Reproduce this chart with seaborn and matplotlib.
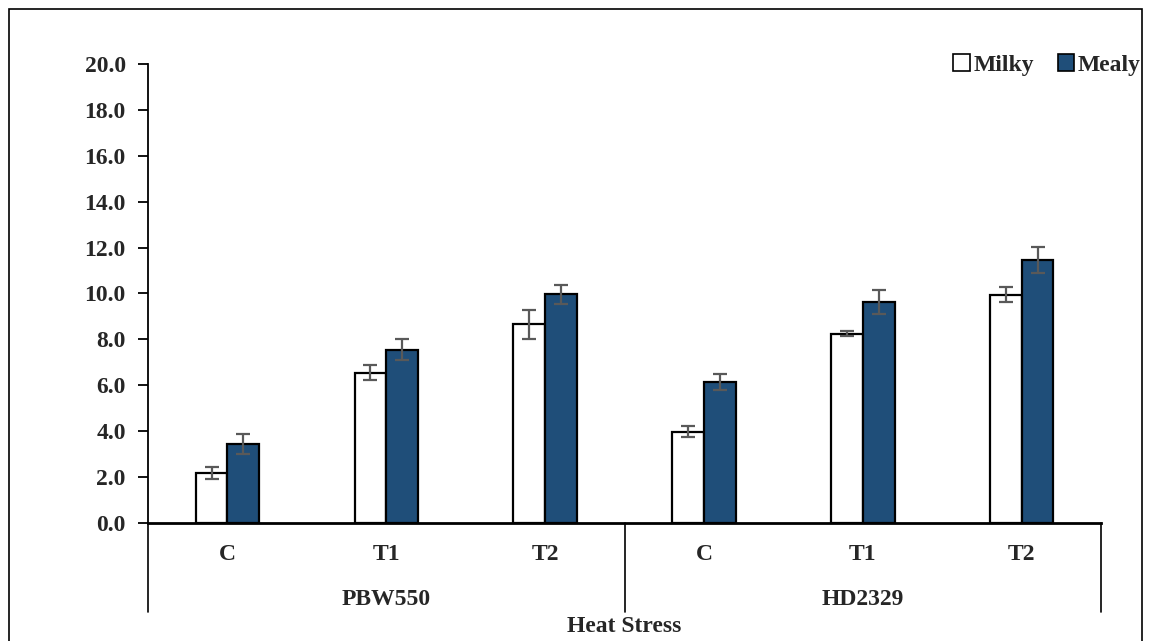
import pandas as pd
import numpy as np
import matplotlib
matplotlib.use('Agg')
import matplotlib.pyplot as plt
import seaborn as sns
from matplotlib.patches import Rectangle, Patch

# values
groups = ['PBW550', 'HD2329']
treatments = ['C', 'T1', 'T2']
series = ['Milky', 'Mealy']
milky = [2.18, 6.55, 8.65, 3.98, 8.25, 9.95]
mealy = [3.44, 7.55, 9.97, 6.14, 9.62, 11.46]
milky_err = [0.27, 0.33, 0.65, 0.23, 0.12, 0.33]
mealy_err = [0.43, 0.47, 0.42, 0.35, 0.51, 0.57]
yticks = np.arange(0, 20.1, 2.0)

rows = []
i = 0
for g in groups:
    for t in treatments:
        key = g + ' ' + t
        rows.append({'key': key, 'group': g, 'treat': t, 'series': 'Milky', 'value': milky[i], 'err': milky_err[i]})
        rows.append({'key': key, 'group': g, 'treat': t, 'series': 'Mealy', 'value': mealy[i], 'err': mealy_err[i]})
        i += 1
df = pd.DataFrame(rows)
order = list(dict.fromkeys(df['key']))

sns.set_style('white')
plt.rcParams['font.family'] = ['Liberation Serif', 'DejaVu Serif']
plt.rcParams['font.weight'] = 'bold'
FS = 17

fig = plt.figure(figsize=(11.51, 6.41), dpi=100)
ax = fig.add_axes([0.1286, 0.1841, 0.9566 - 0.1286, 0.9002 - 0.1841])

colors = {'Milky': '#FFFFFF', 'Mealy': '#1F4E79'}
sns.barplot(data=df, x='key', y='value', hue='series', order=order, hue_order=series,
            palette=colors, saturation=1, width=0.4, edgecolor='black', linewidth=1.6,
            errorbar=None, legend=False, ax=ax)

# error bars drawn from the bars seaborn produced
for cont, s in zip(ax.containers, series):
    errs = df[df['series'] == s].set_index('key').loc[order, 'err'].values
    xs = [b.get_x() + b.get_width() / 2 for b in cont]
    ys = [b.get_height() for b in cont]
    ax.errorbar(xs, ys, yerr=errs, fmt='none', ecolor='#595959', elinewidth=1.6,
                capsize=5, capthick=1.6, zorder=5)

ax.set_ylim(0, 20)
ax.set_xlim(-0.5, len(order) - 0.5)
ax.set_yticks(yticks)
ax.set_yticklabels([f'{v:.1f}' for v in yticks], fontsize=FS, fontweight='bold')
ax.set_xticks(range(len(order)))
ax.set_xticklabels(treatments * len(groups), fontsize=FS, fontweight='bold')
ax.tick_params(axis='y', direction='out', length=7, width=1.3, color='black', pad=9, left=True)
ax.tick_params(axis='x', length=0, pad=15)
ax.set_xlabel('')
ax.set_ylabel('')
for sp in ['top', 'right']:
    ax.spines[sp].set_visible(False)
ax.spines['left'].set_linewidth(1.3)
ax.spines['bottom'].set_linewidth(2)
ax.spines['left'].set_color('black')
ax.spines['bottom'].set_color('black')

# multi-level category axis
tr = ax.get_xaxis_transform()
n = len(treatments)
for k in range(len(groups) + 1):
    xb = k * n - 0.5
    ax.plot([xb, xb], [0, -0.194], transform=tr, color='black', lw=1.2, clip_on=False)
for k, g in enumerate(groups):
    ax.text(k * n + (n - 1) / 2, -0.1656, g, transform=tr, ha='center', va='center',
            fontsize=FS, fontweight='bold')
ax.text((len(order) - 1) / 2, -0.226, 'Heat Stress', transform=tr, ha='center', va='center',
        fontsize=FS, fontweight='bold')

handles = [Patch(facecolor=colors[s], edgecolor='black', linewidth=1.2, label=s) for s in series]
leg = ax.legend(handles=handles, loc='center right', bbox_to_anchor=(0.991, 0.899),
                bbox_transform=fig.transFigure, ncol=2, frameon=False,
                borderpad=0, borderaxespad=0,
                handlelength=0.7, handleheight=0.7, handletextpad=0.15, columnspacing=1.0,
                prop={'size': FS, 'weight': 'bold'})

fig.patches.append(Rectangle((0.0078, -0.01), 0.992 - 0.0078, 0.996, transform=fig.transFigure,
                             fill=False, edgecolor='black', linewidth=1.2))

fig.savefig('out.png', dpi=100)
